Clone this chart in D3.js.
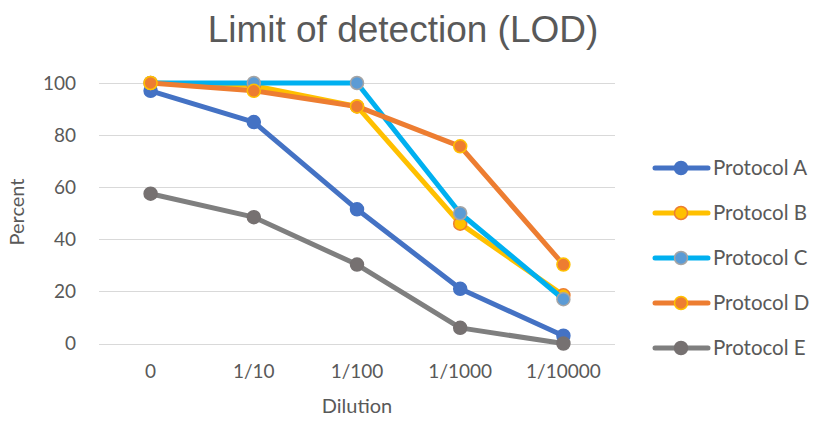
<!DOCTYPE html>
<html><head><meta charset="utf-8">
<script src="https://cdn.jsdelivr.net/npm/d3@7"></script>
<style>body{margin:0;background:#fff}svg{display:block}</style>
</head><body>
<svg id="c" width="818" height="423"></svg>
<script>
const categories = ["0","1/10","1/100","1/1000","1/10000"];
const seriesNames = ["Protocol A","Protocol B","Protocol C","Protocol D","Protocol E"];
const protocolA = [97, 85, 51.5, 21, 3];
const protocolB = [100, 99, 91, 46, 18.5];
const protocolC = [100, 100, 100, 50, 17];
const protocolD = [100, 97, 91, 75.7, 30.3];
const protocolE = [57.5, 48.5, 30.3, 6, 0];
const yTicks = [0,20,40,60,80,100];

const series = [
  {name: seriesNames[0], values: protocolA, line:"#4472C4", fill:"#4472C4", stroke:"#4472C4"},
  {name: seriesNames[1], values: protocolB, line:"#FFC000", fill:"#FFC000", stroke:"#ED7D31"},
  {name: seriesNames[2], values: protocolC, line:"#00B0F0", fill:"#5B9BD5", stroke:"#A5A5A5"},
  {name: seriesNames[3], values: protocolD, line:"#ED7D31", fill:"#ED7D31", stroke:"#FFC000"},
  {name: seriesNames[4], values: protocolE, line:"#7F7F7F", fill:"#767171", stroke:"#767171"}
];

const svg = d3.select("#c");
const font = "Lato, 'Noto Sans', sans-serif";
const L = 99, R = 615, T = 83, B = 343.5;
const x = d3.scaleBand().domain(categories).range([L,R]);
const y = d3.scaleLinear().domain([0,100]).range([B,T]);

// gridlines
svg.append("g").selectAll("line").data(yTicks).join("line")
  .attr("x1",L).attr("x2",R).attr("y1",d=>Math.round(y(d))+0.5).attr("y2",d=>Math.round(y(d))+0.5)
  .attr("stroke","#d9d9d9").attr("stroke-width",1);

// y axis
const ya = svg.append("g").attr("transform",`translate(76,0)`)
  .call(d3.axisLeft(y).tickValues(yTicks).tickSize(0).tickPadding(0));
ya.select(".domain").remove();
ya.selectAll("text").attr("font-family",font).attr("font-size",19).attr("fill","#595959");

// x axis
const xa = svg.append("g").attr("transform",`translate(0,${B+16})`)
  .call(d3.axisBottom(x).tickSize(0).tickPadding(5));
xa.select(".domain").remove();
xa.selectAll("text").attr("font-family",font).attr("font-size",19).attr("fill","#595959");

// title
svg.append("text").attr("x",403).attr("y",42).attr("text-anchor","middle")
  .attr("font-family","'Liberation Sans', Arial, sans-serif").attr("font-size",37).attr("fill","#595959")
  .text("Limit of detection (LOD)");
// axis titles
svg.append("text").attr("x",357).attr("y",413).attr("text-anchor","middle")
  .attr("font-family",font).attr("font-size",20).attr("fill","#595959").text("Dilution");
svg.append("text").attr("transform","translate(24,212) rotate(-90)").attr("text-anchor","middle")
  .attr("font-family",font).attr("font-size",20).attr("fill","#595959").text("Percent");

const cx = (i)=>x(categories[i])+x.bandwidth()/2;
const line = d3.line().x((d,i)=>cx(i)).y(d=>y(d));

series.forEach(s=>{
  const g = svg.append("g");
  g.append("path").datum(s.values).attr("d",line).attr("fill","none")
    .attr("stroke",s.line).attr("stroke-width",5).attr("stroke-linejoin","round").attr("stroke-linecap","round");
  g.selectAll("circle").data(s.values).join("circle")
    .attr("cx",(d,i)=>cx(i)).attr("cy",d=>y(d)).attr("r",6.5)
    .attr("fill",s.fill).attr("stroke",s.stroke).attr("stroke-width",1.5);
});

// legend
const lg = svg.append("g");
series.forEach((s,i)=>{
  const yy = 168 + i*45;
  lg.append("line").attr("x1",655).attr("x2",708).attr("y1",yy).attr("y2",yy)
    .attr("stroke",s.line).attr("stroke-width",5).attr("stroke-linecap","round");
  lg.append("circle").attr("cx",681).attr("cy",yy).attr("r",6.5)
    .attr("fill",s.fill).attr("stroke",s.stroke).attr("stroke-width",1.5);
  lg.append("text").attr("x",713).attr("y",yy+7).attr("font-family",font).attr("font-size",20.5)
    .attr("fill","#595959").text(s.name);
});
</script>
</body></html>
